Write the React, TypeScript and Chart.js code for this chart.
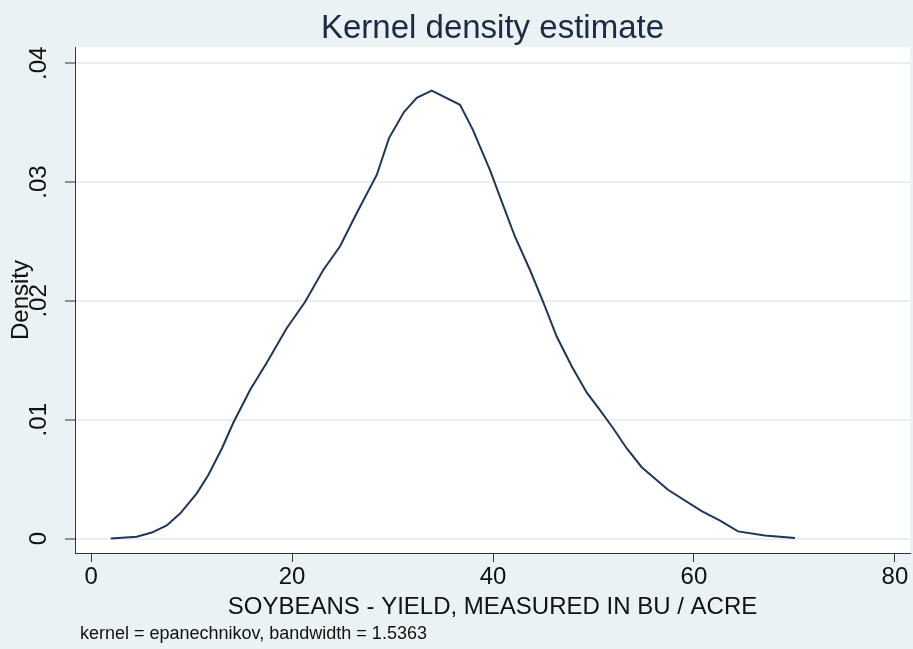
import React, { useEffect, useRef } from "react";
import { Chart, registerables } from "chart.js";

Chart.register(...registerables);

// ---- data ----
const yieldValues = [
  1.96, 4.55, 6.04, 7.53, 8.86, 10.52, 11.64, 13.03, 14.13, 15.82, 17.48, 19.47,
  21.29, 23.11, 24.78, 26.44, 28.43, 29.65, 31.14, 32.41, 33.9, 36.72,
  38.0, 39.7, 41.03, 42.19, 43.68, 45.0, 46.34, 47.83, 49.32, 50.65, 51.94, 53.3,
  54.8, 57.41, 60.77, 62.6, 64.38, 67.06, 70.05,
];
const densityValues = [
  0.0, 0.00015, 0.0005, 0.0011, 0.0021, 0.0038, 0.0053, 0.0076, 0.0097, 0.0125,
  0.0148, 0.0177, 0.0199, 0.0226, 0.0246, 0.0274, 0.0306, 0.0337, 0.0359,
  0.0371, 0.0377, 0.0365, 0.0344, 0.031, 0.028, 0.0254, 0.0226, 0.0199, 0.017,
  0.0145, 0.0123, 0.0108, 0.0093, 0.0076, 0.006, 0.0041, 0.0023, 0.0015, 0.0006,
  0.00025, 0.00004,
];
const xTicks = [0, 20, 40, 60, 80];
const yTicks = [0, 0.01, 0.02, 0.03, 0.04];
const yTickLabels = ["0", ".01", ".02", ".03", ".04"];

const titleText = "Kernel density estimate";
const xTitle = "SOYBEANS - YIELD, MEASURED IN BU / ACRE";
const yTitle = "Density";
const noteText = "kernel = epanechnikov, bandwidth = 1.5363";

const BG = "#eaf2f3";
const FONT = "'Liberation Sans', Arial, Helvetica, sans-serif";

const textPlugin = {
  id: "stataText",
  beforeDraw(chart: any) {
    const { ctx, chartArea: a } = chart;
    ctx.save();
    ctx.fillStyle = BG;
    ctx.fillRect(0, 0, chart.width, chart.height);
    ctx.fillStyle = "#ffffff";
    ctx.fillRect(a.left, a.top, a.right - a.left, a.bottom - a.top);
    ctx.restore();
  },
  afterDraw(chart: any) {
    const { ctx, chartArea: a } = chart;
    const xs = chart.scales.x;
    const ys = chart.scales.y;
    ctx.save();
    // title
    ctx.fillStyle = "#1c2a45";
    ctx.font = `33px ${FONT}`;
    ctx.textAlign = "center";
    ctx.textBaseline = "alphabetic";
    ctx.fillText(titleText, (a.left + a.right) / 2, 38);

    ctx.fillStyle = "#111111";
    // x tick labels
    ctx.font = `24px ${FONT}`;
    ctx.textAlign = "center";
    xTicks.forEach((v) => {
      ctx.fillText(String(v), xs.getPixelForValue(v), 584);
    });
    // x title
    ctx.fillText(xTitle, (a.left + a.right) / 2, 614);

    // y tick labels (rotated)
    yTicks.forEach((v, i) => {
      const py = ys.getPixelForValue(v);
      ctx.save();
      ctx.translate(46, py);
      ctx.rotate(-Math.PI / 2);
      ctx.textAlign = "center";
      ctx.fillText(yTickLabels[i], 0, 0);
      ctx.restore();
    });
    // y title
    ctx.save();
    ctx.translate(28, (a.top + a.bottom) / 2);
    ctx.rotate(-Math.PI / 2);
    ctx.textAlign = "center";
    ctx.fillText(yTitle, 0, 0);
    ctx.restore();

    // note
    ctx.font = `18px ${FONT}`;
    ctx.textAlign = "left";
    ctx.fillText(noteText, 80, 639);
    ctx.restore();
  },
};

export default function App() {
  const ref = useRef<HTMLCanvasElement | null>(null);
  useEffect(() => {
    document.body.style.margin = "0";
    const canvas = ref.current;
    if (!canvas) return;
    const points = yieldValues.map((x, i) => ({ x, y: densityValues[i] }));
    const chart = new Chart(canvas, {
      type: "scatter",
      data: {
        datasets: [
          {
            data: points,
            showLine: true,
            borderColor: "#1f3759",
            borderWidth: 2,
            pointRadius: 0,
            tension: 0,
            fill: false,
          },
        ],
      },
      options: {
        responsive: false,
        animation: false,
        events: [],
        layout: { padding: { left: 65, top: 47, right: 3, bottom: 87 } },
        plugins: {
          legend: { display: false },
          tooltip: { enabled: false },
          title: { display: false },
        },
        scales: {
          x: {
            type: "linear",
            min: -1.6,
            max: 81.5,
            afterBuildTicks: (s: any) => {
              s.ticks = xTicks.map((v) => ({ value: v }));
            },
            ticks: { display: false },
            grid: {
              drawOnChartArea: false,
              drawTicks: true,
              tickLength: 9,
              tickColor: "#333333",
              tickWidth: 1,
            },
            border: { display: true, color: "#333333", width: 1 },
          },
          y: {
            type: "linear",
            min: -0.00122,
            max: 0.04137,
            afterBuildTicks: (s: any) => {
              s.ticks = yTicks.map((v) => ({ value: v }));
            },
            ticks: { display: false },
            grid: {
              drawOnChartArea: true,
              color: "#e9eff1",
              lineWidth: 2,
              drawTicks: true,
              tickLength: 10,
              tickColor: "#333333",
              tickWidth: 1,
            },
            border: { display: true, color: "#333333", width: 1 },
          },
        },
      },
      plugins: [textPlugin],
    });
    return () => chart.destroy();
  }, []);
  return (
    <div style={{ width: 913, height: 649 }}>
      <canvas ref={ref} width={913} height={649} style={{ display: "block" }} />
    </div>
  );
}
